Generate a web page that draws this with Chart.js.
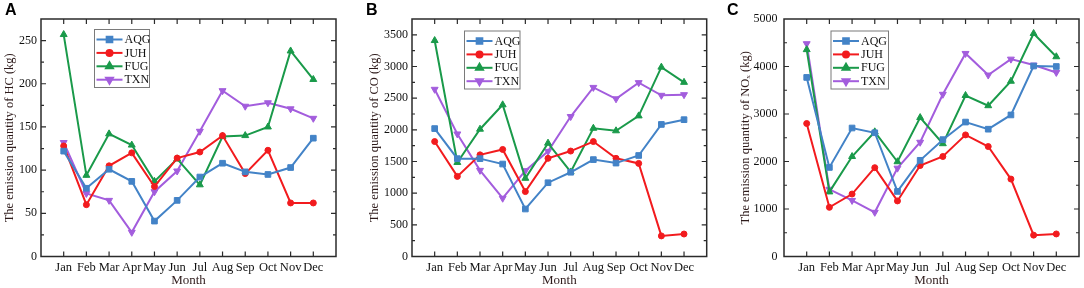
<!DOCTYPE html>
<html>
<head>
<meta charset="utf-8">
<script src="https://cdn.jsdelivr.net/npm/chart.js@4.4.1/dist/chart.umd.min.js"></script>
<style>
  body { margin: 0; background: #fff; }
  #wrap { position: relative; width: 1084px; height: 288px; overflow: hidden; }
  .panel { position: absolute; top: 0; height: 288px; }
  .letter { position: absolute; top: 1px; font: bold 16px 'Liberation Sans', Arial, sans-serif; color: #000; }
</style>
</head>
<body>
<div id="wrap">
  <div class="panel" style="left:0;width:362px"><canvas id="chartA"></canvas></div>
  <div class="panel" style="left:362px;width:362px"><canvas id="chartB"></canvas></div>
  <div class="panel" style="left:724px;width:360px"><canvas id="chartC"></canvas></div>
  <div class="letter" style="left:5px">A</div>
  <div class="letter" style="left:366px">B</div>
  <div class="letter" style="left:727px">C</div>
</div>
<script>
/* data */
const months = ['Jan', 'Feb', 'Mar', 'Apr', 'May', 'Jun', 'Jul', 'Aug', 'Sep', 'Oct', 'Nov', 'Dec'];
const seriesNames = ['AQG', 'JUH', 'FUG', 'TXN'];

// A - HC (kg)
const hcAQG = [122, 79, 101, 87, 41, 65, 92, 108, 98, 95, 103, 137];
const hcJUH = [128, 60, 105, 120, 81, 114, 121, 140, 96, 123, 62, 62];
const hcFUG = [257, 94, 142, 129, 87, 113, 83, 139, 140, 150, 238, 205];
const hcTXN = [132, 73, 65, 28, 75, 99, 145, 192, 174, 178, 171, 160];

// B - CO (kg)
const coAQG = [2020, 1545, 1545, 1460, 750, 1165, 1330, 1530, 1475, 1595, 2085, 2160];
const coJUH = [1815, 1265, 1605, 1690, 1025, 1550, 1665, 1815, 1550, 1470, 325, 355];
const coFUG = [3410, 1485, 2010, 2395, 1235, 1790, 1335, 2025, 1985, 2220, 2990, 2750];
const coTXN = [2640, 1935, 1360, 920, 1355, 1660, 2210, 2670, 2490, 2745, 2545, 2555];

// C - NOx (kg)
const noxAQG = [3770, 1875, 2705, 2605, 1370, 2025, 2460, 2830, 2680, 2980, 4010, 4000];
const noxJUH = [2800, 1035, 1315, 1870, 1170, 1915, 2105, 2560, 2315, 1630, 450, 475];
const noxFUG = [4355, 1360, 2105, 2625, 1995, 2925, 2375, 3390, 3175, 3690, 4695, 4205];
const noxTXN = [4480, 1415, 1180, 930, 1860, 2405, 3415, 4275, 3820, 4155, 4030, 3875];

const colors = ['#4383C7', '#F21B1E', '#1A9A4A', '#A35DDD'];
const markers = [
  { pointStyle: 'rect', radius: 4, rotation: 0 },
  { pointStyle: 'circle', radius: 3, rotation: 0 },
  { pointStyle: 'triangle', radius: 4, rotation: 0 },
  { pointStyle: 'triangle', radius: 4, rotation: 180 }
];

const serif = "'Liberation Serif', 'Times New Roman', serif";
const titleColor = '#2e1b1b';
const axisColor = '#2b2b2b';

function toPoints(values) {
  return values.map(function (v, i) { return { x: i + 1, y: v }; });
}

// box + inward ticks (Origin style) and the legend inside the plot
const framePlugin = {
  id: 'frame',
  afterDraw: function (chart, args, opts) {
    const ctx = chart.ctx;
    const ca = chart.chartArea;
    const xs = chart.scales.x;
    const ys = chart.scales.y;
    ctx.save();
    ctx.strokeStyle = axisColor;
    ctx.lineWidth = 1.5;
    ctx.strokeRect(ca.left, ca.top, ca.right - ca.left, ca.bottom - ca.top);

    ctx.lineWidth = 1.2;
    ctx.beginPath();
    for (let m = 1; m <= 12; m++) {
      const px = xs.getPixelForValue(m);
      ctx.moveTo(px, ca.bottom); ctx.lineTo(px, ca.bottom - 5);
      ctx.moveTo(px, ca.top); ctx.lineTo(px, ca.top + 5);
    }
    ys.ticks.forEach(function (t) {
      if (t.value <= ys.min || t.value >= ys.max) return;
      const py = ys.getPixelForValue(t.value);
      const len = (t.value % opts.major === 0) ? 5 : 3;
      ctx.moveTo(ca.left, py); ctx.lineTo(ca.left + len, py);
      ctx.moveTo(ca.right, py); ctx.lineTo(ca.right - len, py);
    });
    ctx.stroke();

    // legend box
    const lx = ca.left + opts.legendX;
    const ly = ca.top + opts.legendY;
    const lw = opts.legendW;
    const lh = 58;
    ctx.fillStyle = '#fff';
    ctx.fillRect(lx, ly, lw, lh);
    ctx.strokeStyle = '#7a7a7a';
    ctx.lineWidth = 1;
    ctx.strokeRect(lx, ly, lw, lh);
    ctx.font = '12px ' + serif;
    ctx.textBaseline = 'middle';
    chart.data.datasets.forEach(function (ds, i) {
      const cy = ly + 10 + i * 13.4;
      ctx.strokeStyle = ds.borderColor;
      ctx.fillStyle = ds.borderColor;
      ctx.lineWidth = 2;
      ctx.beginPath();
      ctx.moveTo(lx + 2, cy); ctx.lineTo(lx + 28, cy);
      ctx.stroke();
      Chart.helpers.drawPoint(ctx, {
        pointStyle: ds.pointStyle, radius: ds.pointRadius,
        rotation: ds.pointRotation, borderWidth: 1
      }, lx + 15, cy);
      ctx.fillStyle = '#111';
      ctx.fillText(ds.label, lx + 30, cy + 0.5);
    });
    ctx.restore();
  }
};

function makeChart(id, series, cfg) {
  const datasets = series.map(function (vals, i) {
    return {
      label: seriesNames[i],
      data: toPoints(vals),
      borderColor: colors[i],
      backgroundColor: colors[i],
      borderWidth: 2,
      pointStyle: markers[i].pointStyle,
      pointRadius: markers[i].radius,
      pointRotation: markers[i].rotation,
      pointBorderWidth: 1
    };
  });

  return new Chart(document.getElementById(id), {
    type: 'line',
    data: { datasets: datasets },
    plugins: [framePlugin],
    options: {
      responsive: true,
      maintainAspectRatio: false,
      animation: false,
      layout: { padding: { top: 19, right: cfg.padRight, left: 0, bottom: 0 } },
      plugins: {
        legend: { display: false },
        tooltip: { enabled: false },
        frame: { major: cfg.major, legendX: cfg.legendX, legendY: cfg.legendY, legendW: cfg.legendW }
      },
      scales: {
        x: {
          type: 'linear',
          min: 0,
          max: 13,
          afterFit: function (scale) { scale.height = 31.5; },
          grid: { display: true, drawOnChartArea: false, drawTicks: false, color: 'rgba(0,0,0,0)' },
          border: { display: false },
          ticks: {
            stepSize: 1,
            autoSkip: false,
            maxRotation: 0,
            minRotation: 0,
            padding: 4,
            color: '#111',
            font: { family: serif, size: 12.5 },
            callback: function (v) { return (v >= 1 && v <= 12) ? months[v - 1] : ''; }
          },
          title: {
            display: true,
            text: 'Month',
            color: titleColor,
            font: { family: serif, size: 13 },
            padding: { top: 0, bottom: 0 }
          }
        },
        y: {
          min: 0,
          max: cfg.max,
          afterFit: function (scale) { scale.width = cfg.yWidth; },
          grid: { display: true, drawOnChartArea: false, drawTicks: false, color: 'rgba(0,0,0,0)' },
          border: { display: false },
          ticks: {
            stepSize: cfg.minor,
            autoSkip: false,
            padding: cfg.tickPad,
            color: '#111',
            font: { family: serif, size: 12 },
            callback: function (v) { return (v % cfg.major === 0) ? String(v) : ''; }
          },
          title: {
            display: true,
            text: cfg.yTitle,
            color: titleColor,
            font: { family: serif, size: 12.5 },
            padding: { top: cfg.titlePad, bottom: 0 }
          }
        }
      }
    }
  });
}

makeChart('chartA', [hcAQG, hcJUH, hcFUG, hcTXN], {
  yTitle: 'The emission quantity of HC (kg)',
  max: 275, major: 50, minor: 25,
  yWidth: 41, tickPad: 4, titlePad: 2.5, padRight: 26,
  legendX: 53.5, legendY: 10.5, legendW: 55
});

makeChart('chartB', [coAQG, coJUH, coFUG, coTXN], {
  yTitle: 'The emission quantity of CO (kg)',
  max: 3750, major: 500, minor: 250,
  yWidth: 50, tickPad: 4, titlePad: 5.5, padRight: 17.3,
  legendX: 52.5, legendY: 12, legendW: 55.5
});

makeChart('chartC', [noxAQG, noxJUH, noxFUG, noxTXN], {
  yTitle: 'The emission quantity of NOₓ (kg)',
  max: 5000, major: 1000, minor: 500,
  yWidth: 60, tickPad: 6.5, titlePad: 14, padRight: 4.7,
  legendX: 47, legendY: 12, legendW: 57.5
});
</script>
</body>
</html>
